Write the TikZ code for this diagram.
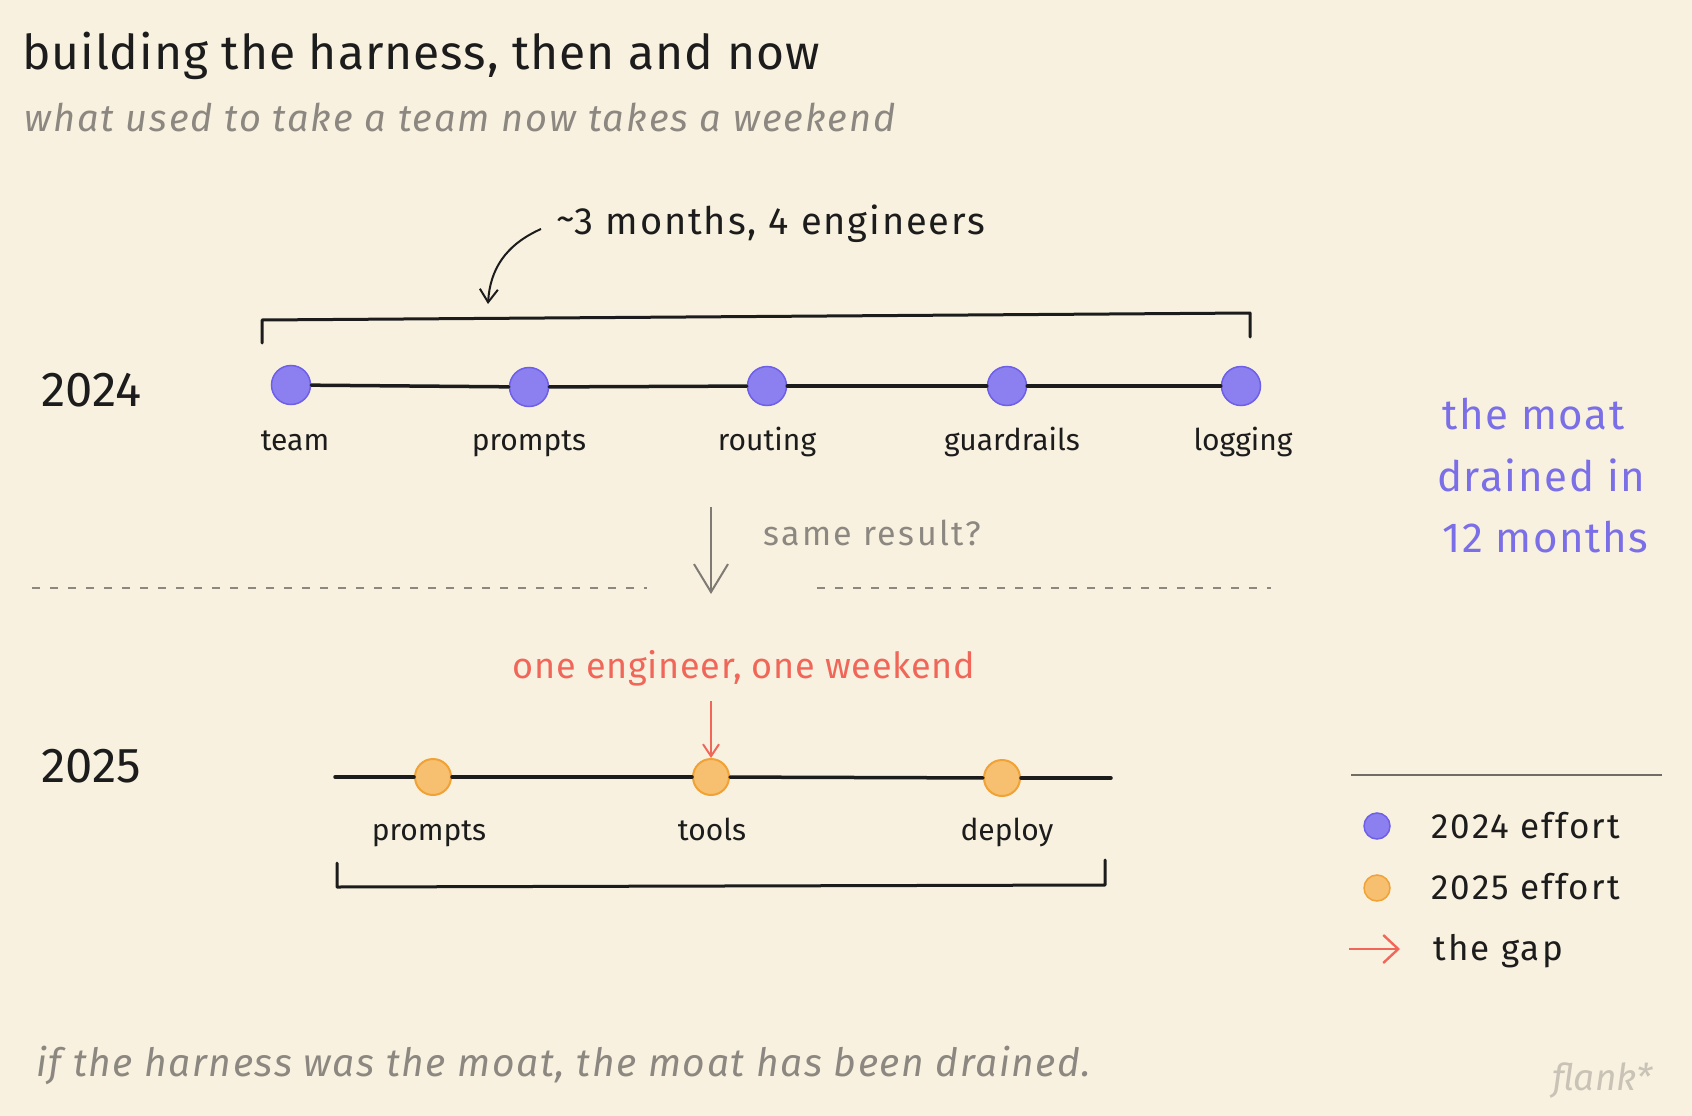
\documentclass[tikz,border=0pt]{standalone}
\usepackage{fontspec}
\setmainfont{Fira Sans}
\usetikzlibrary{arrows.meta}
\definecolor{bg}{HTML}{F8F1DF}
\definecolor{ink}{HTML}{1C1C1C}
\definecolor{graytxt}{HTML}{8C8881}
\definecolor{lightgray}{HTML}{C9C3B7}
\definecolor{purplefill}{HTML}{8C80F0}
\definecolor{purpleline}{HTML}{6D5FE8}
\definecolor{purpletxt}{HTML}{7B6FE8}
\definecolor{orangefill}{HTML}{F7BF70}
\definecolor{orangeline}{HTML}{F0A234}
\definecolor{coral}{HTML}{F0675A}
\newcommand{\trk}[1]{\addfontfeatures{LetterSpace=#1}}
\tikzset{
  dotA/.style={draw=purpleline, fill=purplefill, line width=1.5pt, circle, minimum size=39pt, inner sep=0pt},
  dotB/.style={draw=orangeline, fill=orangefill, line width=2pt, circle, minimum size=36pt, inner sep=0pt},
  lbl/.style={text=ink, font=\fontsize{30}{36}\selectfont, anchor=mid},
  yearlbl/.style={text=ink, font=\fontsize{49}{56}\selectfont, anchor=west},
  track/.style={draw=ink, line width=3.5pt, line cap=round},
  brk/.style={draw=ink, line width=3pt, line cap=round, line join=round},
  leg/.style={text=ink, font=\fontsize{35}{40}\selectfont\trk{6}, anchor=mid west},
  moat/.style={anchor=mid west, text=purpletxt, font=\fontsize{42}{50}\selectfont\trk{4}, inner sep=0pt}
}
\begin{document}
\begin{tikzpicture}[x=1pt,y=-1pt]
\useasboundingbox (0,0) rectangle (1692,1116);
\fill[bg] (0,0) rectangle (1692,1116);

% titles
\node[anchor=mid west, text=ink, font=\fontsize{48}{54}\selectfont\trk{2}, inner sep=0pt] (title) at (22,67) {building the harness, then and now};
\node[anchor=mid west, text=graytxt, font=\itshape\fontsize{38}{42}\selectfont\trk{5}, inner sep=0pt] (subtitle) at (24,129) {what used to take a team now takes a weekend};

% 2024 row
\node[yearlbl, inner sep=0pt] (y24) at (41,390) {2024};
\node[dotA] (a1) at (291,385) {};
\node[dotA] (a2) at (529,387) {};
\node[dotA] (a3) at (767,386) {};
\node[dotA] (a4) at (1007,386) {};
\node[dotA] (a5) at (1241,386) {};
\draw[track] (a1) -- (a2);
\draw[track] (a2) -- (a3);
\draw[track] (a3) -- (a4);
\draw[track] (a4) -- (a5);
\node[lbl] (l1) at (295,448) {team};
\node[lbl] (l2) at (529,448) {prompts};
\node[lbl] (l3) at (767,448) {routing};
\node[lbl] (l4) at (1012,448) {guardrails};
\node[lbl] (l5) at (1243,448) {logging};

% top bracket
\coordinate (tb1) at (262,343);
\coordinate (tb2) at (262,320);
\coordinate (tb3) at (1250,313);
\coordinate (tb4) at (1250,337);
\draw[brk] (tb1) -- (tb2) -- (tb3) -- (tb4);

\node[anchor=mid west, text=ink, font=\fontsize{38}{44}\selectfont\trk{5}, inner sep=0pt] (months) at (556,232) {\raisebox{0.15ex}{\textasciitilde}3 months, 4 engineers};
\coordinate (ca) at (488,304);
\coordinate (cs) at (541,229);
\draw[draw=ink, line width=2pt, -{Straight Barb[length=13pt,width=18pt,line width=2pt]}] (cs) .. controls (505,245) and (490,270) .. (ca);

% moat text
\node[moat] (m1) at (1442,427) {the moat};
\node[moat] (m2) at (1437,489) {drained in};
\node[moat] (m3) at (1442,550) {12 months};

% middle
\coordinate (ga) at (711,507);
\coordinate (gb) at (711,594);
\draw[draw=graytxt!90!black, line width=2pt, -{Straight Barb[length=28pt,width=34pt,line width=2pt]}] (ga) -- (gb);
\node[anchor=mid west, text=graytxt, font=\fontsize{34}{40}\selectfont\trk{7}, inner sep=0pt] (same) at (763,543) {same result?};
\coordinate (d1) at (32,588);
\coordinate (d2) at (647,588);
\coordinate (d3) at (817,588);
\coordinate (d4) at (1271,588);
\draw[draw=graytxt, line width=2pt, dash pattern=on 8pt off 10pt] (d1) -- (d2);
\draw[draw=graytxt, line width=2pt, dash pattern=on 8pt off 10pt] (d3) -- (d4);

% 2025 row
\node[anchor=mid, text=coral, font=\fontsize{36}{42}\selectfont\trk{2}, inner sep=0pt] (one) at (744,676) {one engineer, one weekend};
\node[yearlbl, inner sep=0pt] (y25) at (41,766) {2025};
\coordinate (t0) at (335,777);
\coordinate (t4) at (1111,778);
\node[dotB] (b1) at (433,777) {};
\node[dotB] (b2) at (711,777) {};
\node[dotB] (b3) at (1002,778) {};
\draw[track] (t0) -- (b1);
\draw[track] (b1) -- (b2);
\draw[track] (b2) -- (b3);
\draw[track] (b3) -- (t4);
\coordinate (ra) at (711,701);
\draw[draw=coral, line width=2pt, -{Straight Barb[length=12pt,width=16pt,line width=2pt]}] (ra) -- (b2.north);
\node[lbl] (k1) at (429,838) {prompts};
\node[lbl] (k2) at (712,838) {tools};
\node[lbl] (k3) at (1007,838) {deploy};

% bottom bracket
\coordinate (bb1) at (337,863);
\coordinate (bb2) at (337,887);
\coordinate (bb3) at (1105,885);
\coordinate (bb4) at (1105,860);
\draw[brk] (bb1) -- (bb2) -- (bb3) -- (bb4);

% legend
\coordinate (lg1) at (1351,775);
\coordinate (lg2) at (1662,775);
\draw[draw=graytxt!80!black, line width=2.2pt] (lg1) -- (lg2);
\node[draw=purpleline, fill=purplefill, line width=1.5pt, circle, minimum size=26pt, inner sep=0pt] (ld1) at (1377,826) {};
\node[leg] (lt1) at (1428,836) {2024 effort};
\node[draw=orangeline, fill=orangefill, line width=1.5pt, circle, minimum size=26pt, inner sep=0pt] (ld2) at (1377,888) {};
\node[leg] (lt2) at (1428,897) {2025 effort};
\coordinate (la1) at (1349,949);
\coordinate (la2) at (1400,949);
\draw[draw=coral, line width=2.4pt, -{Straight Barb[length=15pt,width=28pt,line width=2.4pt]}] (la1) -- (la2);
\node[leg] (lt3) at (1430,958) {the gap};

% footer
\node[anchor=mid west, text=graytxt, font=\itshape\fontsize{39}{44}\selectfont\trk{4}, inner sep=0pt] (foot) at (36,1074) {if the harness was the moat, the moat has been drained.};
\node[anchor=mid west, text=lightgray, font=\itshape\fontsize{37}{42}\selectfont, inner sep=0pt] (flank) at (1552,1088) {flank*};
\end{tikzpicture}
\end{document}
